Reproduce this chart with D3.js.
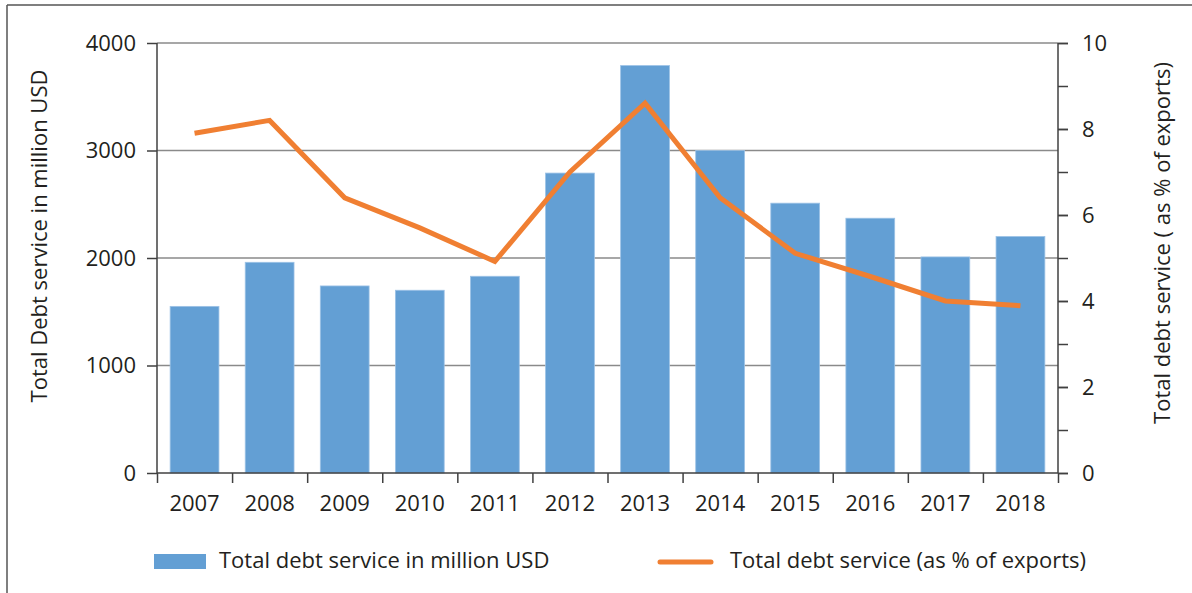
<!DOCTYPE html>
<html>
<head>
<meta charset="utf-8">
<script src="https://cdn.jsdelivr.net/npm/d3@7"></script>
<style>
  html, body { margin: 0; padding: 0; background: #fff; }
  svg { display: block; font-family: "Open Sans", sans-serif; }
</style>
</head>
<body>
<svg id="chart" width="1192" height="593"></svg>
<script>
// Debt service, 2007–2018
const years = ["2007","2008","2009","2010","2011","2012","2013","2014","2015","2016","2017","2018"];
const debtServiceUSD = [1550, 1960, 1740, 1700, 1830, 2790, 3790, 3000, 2510, 2370, 2010, 2200];
const debtServicePctExports = [7.9, 8.2, 6.4, 5.7, 4.92, 7.0, 8.6, 6.4, 5.11, 4.57, 4.0, 3.89];
const leftTicks = [0, 1000, 2000, 3000, 4000];
const rightTicks = [0, 2, 4, 6, 8, 10];
const rightMinorTicks = [0, 1, 2, 3, 4, 5, 6, 7, 8, 9, 10];

const barColor = "#639fd4";
const lineColor = "#f07f32";
const axisColor = "#404040";
const gridColor = "#8a8a8a";
const textColor = "#231f20";
const fontSize = 22;

const svg = d3.select("#chart");
const W = 1192, H = 593;
const plot = { left: 157, right: 1058, top: 43, bottom: 473 };

// frame
svg.append("line").attr("x1", 7).attr("x2", W).attr("y1", 5).attr("y2", 5)
  .attr("stroke", "#555").attr("stroke-width", 1.5);
svg.append("line").attr("x1", 7).attr("x2", 7).attr("y1", 5).attr("y2", H)
  .attr("stroke", "#555").attr("stroke-width", 1.5);

const x = d3.scaleBand().domain(years).range([plot.left, plot.right])
  .paddingInner(0.35).paddingOuter(0.175);
const xTickScale = d3.scaleBand().domain(years).range([plot.left, plot.right]);
const yL = d3.scaleLinear().domain([0, 4000]).range([plot.bottom, plot.top]);
const yR = d3.scaleLinear().domain([0, 10]).range([plot.bottom, plot.top]);

// horizontal gridlines
svg.append("g").selectAll("line").data(leftTicks.filter(d => d > 0)).join("line")
  .attr("x1", plot.left).attr("x2", plot.right)
  .attr("y1", d => yL(d)).attr("y2", d => yL(d))
  .attr("stroke", gridColor).attr("stroke-width", 1.3);

// bars
svg.append("g").selectAll("rect").data(debtServiceUSD).join("rect")
  .attr("x", (d, i) => x(years[i]))
  .attr("width", x.bandwidth())
  .attr("y", d => yL(d))
  .attr("height", d => yL(0) - yL(d))
  .attr("fill", barColor)
  .attr("stroke", "#9cc2e6").attr("stroke-width", 0.8);

// line series on secondary axis
const line = d3.line()
  .x((d, i) => x(years[i]) + x.bandwidth() / 2)
  .y(d => yR(d));
svg.append("path").datum(debtServicePctExports)
  .attr("d", line)
  .attr("fill", "none")
  .attr("stroke", lineColor)
  .attr("stroke-width", 5)
  .attr("stroke-linejoin", "miter");

// left axis
const leftAxis = d3.axisLeft(yL).tickValues(leftTicks).tickFormat(d3.format("d"))
  .tickSize(10).tickPadding(11);
const gL = svg.append("g").attr("transform", `translate(${plot.left},0)`).call(leftAxis);
// right axis: minor ticks every 1, labels every 2
const gRm = svg.append("g").attr("transform", `translate(${plot.right},0)`)
  .call(d3.axisRight(yR).tickValues(rightMinorTicks).tickSize(10).tickFormat(""));
const gR = svg.append("g").attr("transform", `translate(${plot.right},0)`)
  .call(d3.axisRight(yR).tickValues(rightTicks).tickFormat(d3.format("d"))
    .tickSize(10).tickPadding(14));
// bottom axis: ticks on category boundaries
const boundaries = years.map(y => xTickScale(y)).concat([plot.right]);
const xb = d3.scaleLinear().domain([plot.left, plot.right]).range([plot.left, plot.right]);
const gBt = svg.append("g").attr("transform", `translate(0,${plot.bottom})`)
  .call(d3.axisBottom(xb).tickValues(boundaries).tickSize(10).tickFormat(""));
const gB = svg.append("g").attr("transform", `translate(0,${plot.bottom})`)
  .call(d3.axisBottom(x).tickSize(0).tickPadding(22));

[gL, gR, gRm, gB, gBt].forEach(g => {
  g.select(".domain").attr("stroke", axisColor).attr("stroke-width", 1.5);
  g.selectAll(".tick line").attr("stroke", axisColor).attr("stroke-width", 1.5);
  g.selectAll(".tick text").attr("fill", textColor)
    .attr("font-size", fontSize).attr("font-family", "Open Sans, sans-serif");
});
gB.select(".domain").remove();
gL.select(".domain").attr("d", `M0,${plot.bottom}V${plot.top}`);
gRm.select(".domain").attr("d", `M0,${plot.bottom}V${plot.top}`);
gR.select(".domain").remove();
gBt.select(".domain").attr("d", `M${plot.left},0H${plot.right}`);

// axis titles
svg.append("text")
  .attr("transform", `translate(47,236) rotate(-90)`)
  .attr("text-anchor", "middle")
  .attr("font-size", fontSize).attr("fill", textColor)
  .text("Total Debt service in million USD");
svg.append("text")
  .attr("transform", `translate(1170,243) rotate(-90)`)
  .attr("text-anchor", "middle")
  .attr("font-size", fontSize).attr("fill", textColor)
  .text("Total debt service ( as % of exports)");

// legend
const legend = svg.append("g");
legend.append("rect").attr("x", 154).attr("y", 554).attr("width", 52).attr("height", 15)
  .attr("fill", barColor);
legend.append("text").attr("x", 219).attr("y", 568)
  .attr("font-size", fontSize).attr("fill", textColor)
  .text("Total debt service in million USD");
legend.append("line").attr("x1", 660).attr("x2", 711).attr("y1", 562).attr("y2", 562)
  .attr("stroke", lineColor).attr("stroke-width", 5).attr("stroke-linecap", "round");
legend.append("text").attr("x", 730).attr("y", 568)
  .attr("font-size", fontSize).attr("fill", textColor)
  .text("Total debt service (as % of exports)");
</script>
</body>
</html>
